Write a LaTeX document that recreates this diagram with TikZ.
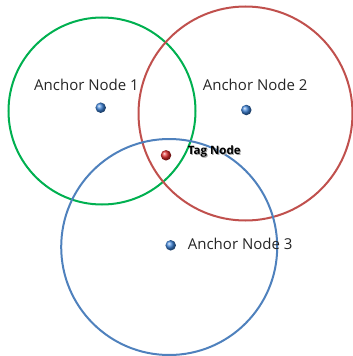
\documentclass[tikz,border=0pt]{standalone}
\usepackage{fontspec}
\setmainfont{Open Sans}
\usetikzlibrary{shadings}
\definecolor{rangegreen}{RGB}{0,176,80}
\definecolor{rangered}{RGB}{192,80,77}
\definecolor{rangeblue}{RGB}{79,129,189}
\definecolor{dotblue}{RGB}{60,130,215}
\definecolor{dotred}{RGB}{220,40,40}
\begin{document}
\begin{tikzpicture}[x=1pt,y=-1pt,
  range/.style={circle,draw,line width=2pt,inner sep=0pt,minimum size=#1},
  ball/.style={circle,inner sep=0pt,minimum size=10.5pt,shading=ball,ball color=#1},
  lbl/.style={font=\fontsize{15}{17}\selectfont,text=black!85,inner sep=0pt,anchor=base west},
  taglbl/.style={font=\fontsize{11.5}{13}\selectfont\bfseries,inner sep=0pt,anchor=base west}]
\useasboundingbox (0,0) rectangle (353,356);
% coverage circles of the three anchors
\node[range=187pt,draw=rangegreen] (c1) at (102,111) {};
\node[range=214pt,draw=rangered] (c2) at (245.5,113.5) {};
\node[range=216pt,draw=rangeblue] (c3) at (169.2,247) {};
% anchors and the tag
\node[ball=dotblue] (a1) at (100.7,107.7) {};
\node[ball=dotblue] (a2) at (246.3,110) {};
\node[ball=dotblue] (a3) at (170.7,245.3) {};
\node[ball=dotred] (tag) at (166,155.3) {};
% labels
\node[lbl] (l1) at (34,90.7) {Anchor Node 1};
\node[lbl] (l2) at (202.7,90.7) {Anchor Node 2};
\node[lbl] (l3) at (187.7,249) {Anchor Node 3};
\node[taglbl,text=black!35] (tshadow) at (188.7,155) {Tag Node};
\node[taglbl] (tl) at (187.7,154) {Tag Node};
\end{tikzpicture}
\end{document}
